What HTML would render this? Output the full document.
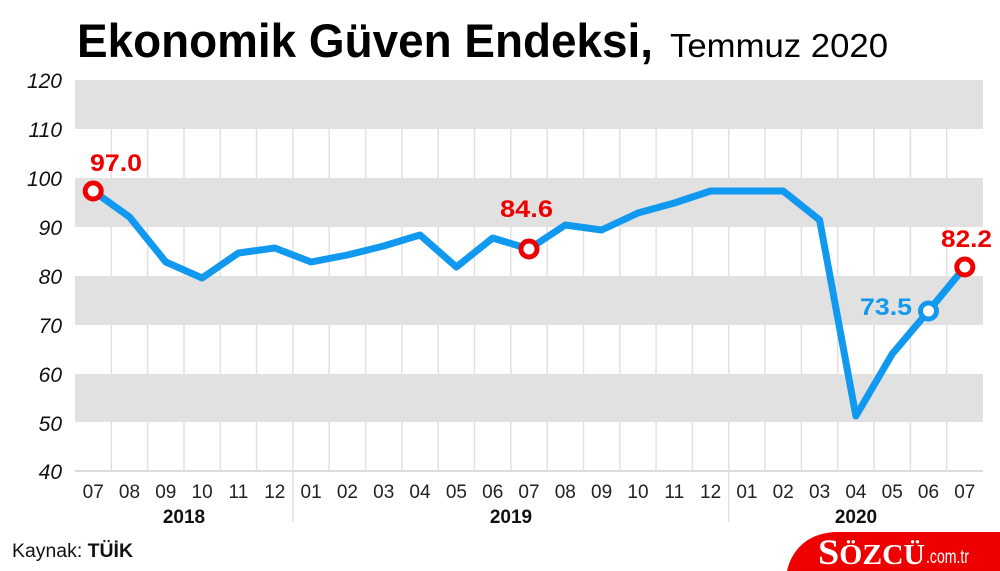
<!DOCTYPE html>
<html><head><meta charset="utf-8"><style>
html,body{margin:0;padding:0;background:#fff;}
svg{display:block;font-family:"Liberation Sans",sans-serif;}
</style></head><body>
<svg width="1000" height="571" viewBox="0 0 1000 571" xmlns="http://www.w3.org/2000/svg">
<rect width="1000" height="571" fill="#fff"/>
<!-- title -->
<text x="77" y="57" font-size="47" font-weight="bold" fill="#000" textLength="576" lengthAdjust="spacingAndGlyphs">Ekonomik Güven Endeksi,</text>
<text x="670" y="57" font-size="33" fill="#000" textLength="218" lengthAdjust="spacingAndGlyphs">Temmuz 2020</text>
<!-- bands -->
<g fill="#e1e1e1">
<rect x="75" y="80" width="908" height="49"/>
<rect x="75" y="178" width="908" height="49"/>
<rect x="75" y="276" width="908" height="49"/>
<rect x="75" y="374" width="908" height="48"/>
</g>
<!-- vertical grid -->
<g stroke="#e1e1e1" stroke-width="1.5">
<line x1="111.3" y1="80" x2="111.3" y2="471"/>
<line x1="147.6" y1="80" x2="147.6" y2="471"/>
<line x1="184.0" y1="80" x2="184.0" y2="471"/>
<line x1="220.3" y1="80" x2="220.3" y2="471"/>
<line x1="256.6" y1="80" x2="256.6" y2="471"/>
<line x1="292.9" y1="80" x2="292.9" y2="522"/>
<line x1="329.2" y1="80" x2="329.2" y2="471"/>
<line x1="365.6" y1="80" x2="365.6" y2="471"/>
<line x1="401.9" y1="80" x2="401.9" y2="471"/>
<line x1="438.2" y1="80" x2="438.2" y2="471"/>
<line x1="474.5" y1="80" x2="474.5" y2="471"/>
<line x1="510.8" y1="80" x2="510.8" y2="471"/>
<line x1="547.2" y1="80" x2="547.2" y2="471"/>
<line x1="583.5" y1="80" x2="583.5" y2="471"/>
<line x1="619.8" y1="80" x2="619.8" y2="471"/>
<line x1="656.1" y1="80" x2="656.1" y2="471"/>
<line x1="692.4" y1="80" x2="692.4" y2="471"/>
<line x1="728.8" y1="80" x2="728.8" y2="522"/>
<line x1="765.1" y1="80" x2="765.1" y2="471"/>
<line x1="801.4" y1="80" x2="801.4" y2="471"/>
<line x1="837.7" y1="80" x2="837.7" y2="471"/>
<line x1="874.0" y1="80" x2="874.0" y2="471"/>
<line x1="910.4" y1="80" x2="910.4" y2="471"/>
<line x1="946.7" y1="80" x2="946.7" y2="471"/>
</g>
<line x1="75" y1="471" x2="983" y2="471" stroke="#dcdcdc" stroke-width="2"/>
<!-- y labels -->
<g font-size="21" font-style="italic" fill="#111" text-anchor="end">
<text x="62" y="88">120</text>
<text x="62" y="137">110</text>
<text x="62" y="186">100</text>
<text x="62" y="235">90</text>
<text x="62" y="284">80</text>
<text x="62" y="333">70</text>
<text x="62" y="382">60</text>
<text x="62" y="431">50</text>
<text x="62" y="479">40</text>
</g>
<!-- x labels -->
<g font-size="19" fill="#222" text-anchor="middle">
<text x="93.2" y="498">07</text>
<text x="129.5" y="498">08</text>
<text x="165.8" y="498">09</text>
<text x="202.1" y="498">10</text>
<text x="238.4" y="498">11</text>
<text x="274.8" y="498">12</text>
<text x="311.1" y="498">01</text>
<text x="347.4" y="498">02</text>
<text x="383.7" y="498">03</text>
<text x="420.0" y="498">04</text>
<text x="456.4" y="498">05</text>
<text x="492.7" y="498">06</text>
<text x="529.0" y="498">07</text>
<text x="565.3" y="498">08</text>
<text x="601.6" y="498">09</text>
<text x="638.0" y="498">10</text>
<text x="674.3" y="498">11</text>
<text x="710.6" y="498">12</text>
<text x="746.9" y="498">01</text>
<text x="783.2" y="498">02</text>
<text x="819.6" y="498">03</text>
<text x="855.9" y="498">04</text>
<text x="892.2" y="498">05</text>
<text x="928.5" y="498">06</text>
<text x="964.8" y="498">07</text>
</g>
<g font-size="19" font-weight="bold" fill="#111" text-anchor="middle">
<text x="184" y="523">2018</text>
<text x="511" y="523">2019</text>
<text x="856" y="523">2020</text>
</g>
<!-- series -->
<polyline fill="none" stroke="#1199f0" stroke-width="7" stroke-linejoin="round" stroke-linecap="round"
points="93.2,191 129.5,217 165.8,262 202.1,278 238.4,253 274.8,248 311.1,262 347.4,255 383.7,246 420.0,235 456.4,267 492.7,238 529.0,249 565.3,225 601.6,230 638.0,213 674.3,203 710.6,191 746.9,191 783.2,191 819.6,220 855.9,416 892.2,354 928.5,311 964.8,267"/>
<!-- markers -->
<circle cx="93.2" cy="191" r="8" fill="#fff" stroke="#ee0000" stroke-width="5"/>
<circle cx="529.0" cy="249" r="8" fill="#fff" stroke="#ee0000" stroke-width="5"/>
<circle cx="928.5" cy="311" r="8" fill="#fff" stroke="#1199f0" stroke-width="5"/>
<circle cx="964.8" cy="267" r="8" fill="#fff" stroke="#ee0000" stroke-width="5"/>
<!-- value labels -->
<g font-size="24" font-weight="bold">
<text x="90" y="171" fill="#ee0000" textLength="52" lengthAdjust="spacingAndGlyphs">97.0</text>
<text x="500" y="217" fill="#ee0000" textLength="53" lengthAdjust="spacingAndGlyphs">84.6</text>
<text x="941" y="247" fill="#ee0000" textLength="51" lengthAdjust="spacingAndGlyphs">82.2</text>
<text x="860" y="315" fill="#1199f0" textLength="52" lengthAdjust="spacingAndGlyphs">73.5</text>
</g>
<!-- source -->
<text x="12" y="557" font-size="19" fill="#111" textLength="121" lengthAdjust="spacingAndGlyphs">Kaynak: <tspan font-weight="bold">TÜİK</tspan></text>
<!-- logo -->
<path d="M787,571 C792,548 810,532 838,532 L1000,532 L1000,571 Z" fill="#ee0000"/>
<text x="818" y="564" fill="#fff" style="font-family:'Liberation Serif',serif;font-weight:bold" textLength="107" lengthAdjust="spacingAndGlyphs"><tspan font-size="36">S</tspan><tspan font-size="28">ÖZCÜ</tspan></text>
<text x="926" y="563" fill="#fff" font-size="19" textLength="43" lengthAdjust="spacingAndGlyphs">.com.tr</text>
</svg>
</body></html>
